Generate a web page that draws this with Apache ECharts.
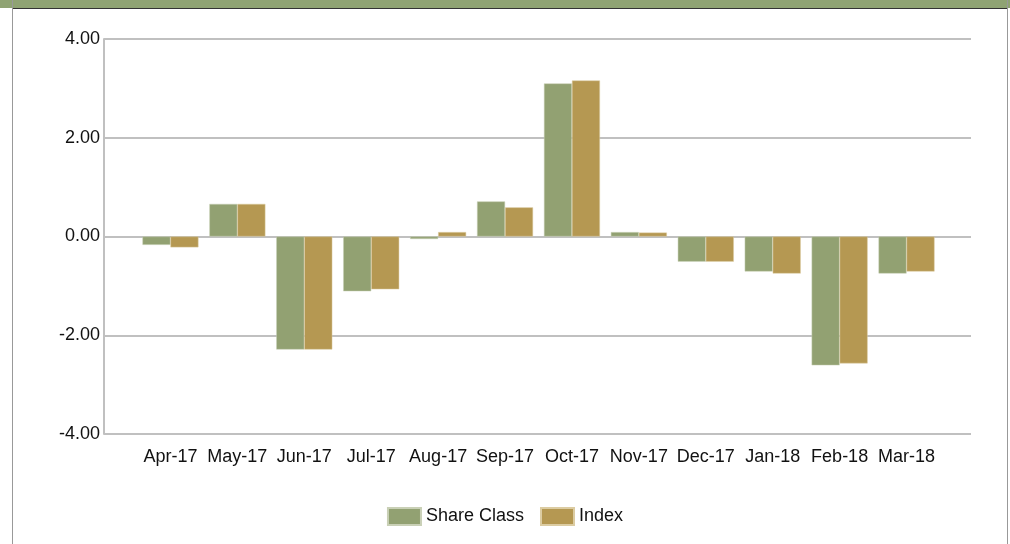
<!DOCTYPE html>
<html>
<head>
<meta charset="utf-8">
<script src="https://cdn.jsdelivr.net/npm/echarts@6/dist/echarts.min.js"></script>
<style>
  html, body { margin: 0; padding: 0; background: #fff; }
  #main { width: 1010px; height: 544px; }
</style>
</head>
<body>
<div id="main"></div>
<script>
var months = ['Apr-17', 'May-17', 'Jun-17', 'Jul-17', 'Aug-17', 'Sep-17', 'Oct-17', 'Nov-17', 'Dec-17', 'Jan-18', 'Feb-18', 'Mar-18'];
var shareClass = [-0.17, 0.66, -2.29, -1.11, -0.05, 0.71, 3.10, 0.09, -0.51, -0.71, -2.61, -0.75];
var indexVals = [-0.22, 0.66, -2.29, -1.07, 0.09, 0.59, 3.16, 0.08, -0.51, -0.75, -2.57, -0.71];

var chartDom = document.getElementById('main');
var myChart = echarts.init(chartDom);
var option;

// grid 0 carries the value axis and gridlines, grid 1 (inset) carries the bars
option = {
  animation: false,
  textStyle: { fontFamily: 'Liberation Sans, Arial, sans-serif' },
  graphic: [
    { type: 'rect', shape: { x: 0, y: 0, width: 1010, height: 8 }, style: { fill: '#8fa373' } },
    { type: 'line', shape: { x1: 12, y1: 8.5, x2: 1008, y2: 8.5 }, style: { stroke: '#333', lineWidth: 1 } },
    { type: 'line', shape: { x1: 12.5, y1: 0, x2: 12.5, y2: 544 }, style: { stroke: '#999', lineWidth: 1 } },
    { type: 'line', shape: { x1: 1007.5, y1: 0, x2: 1007.5, y2: 544 }, style: { stroke: '#999', lineWidth: 1 } }
  ],
  legend: {
    data: ['Share Class', 'Index'],
    top: 502,
    left: 'center',
    itemWidth: 33,
    itemHeight: 17,
    itemGap: 16,
    icon: 'rect',
    textStyle: { fontSize: 18, color: '#111' }
  },
  grid: [
    { left: 104, right: 39, top: 39, bottom: 110 },
    { left: 137, right: 70, top: 39, bottom: 110 }
  ],
  xAxis: [
    { type: 'value', gridIndex: 0, min: 0, max: 1, show: false },
    {
      type: 'category',
      gridIndex: 1,
      data: months,
      axisLine: { show: false },
      axisTick: { show: false },
      axisLabel: { fontSize: 18, color: '#111', margin: 14, interval: 0 }
    }
  ],
  yAxis: [
    {
      type: 'value',
      gridIndex: 0,
      min: -4,
      max: 4,
      interval: 2,
      axisLine: { show: true, lineStyle: { color: '#c0c0c0', width: 2 } },
      axisTick: { show: false },
      axisLabel: { fontSize: 18, color: '#111', margin: 4, formatter: function (v) { return v.toFixed(2); } },
      splitLine: { show: true, lineStyle: { color: '#c0c0c0', width: 2 } }
    },
    { type: 'value', gridIndex: 1, min: -4, max: 4, show: false }
  ],
  series: [
    {
      name: 'Share Class',
      type: 'bar',
      xAxisIndex: 1,
      yAxisIndex: 1,
      barWidth: 28,
      barGap: 0,
      itemStyle: { color: '#92a172', borderColor: '#c9d0b6', borderWidth: 0.5 },
      data: shareClass
    },
    {
      name: 'Index',
      type: 'bar',
      xAxisIndex: 1,
      yAxisIndex: 1,
      barWidth: 28,
      barGap: 0,
      itemStyle: { color: '#b59852', borderColor: '#dccca2', borderWidth: 0.5 },
      data: indexVals
    }
  ]
};

option && myChart.setOption(option);
</script>
</body>
</html>
